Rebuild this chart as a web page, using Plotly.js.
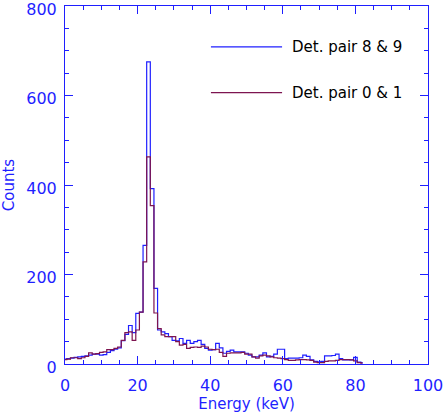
<!DOCTYPE html>
<html>
<head>
<meta charset="utf-8">
<script src="https://cdn.plot.ly/plotly-3.0.1.min.js"></script>
<style>html,body{margin:0;padding:0;background:#fff;}#chart{width:443px;height:420px;}</style>
</head>
<body>
<div id="chart"></div>
<script>
// Bin centres (keV), 1 keV wide bins
const energyKeV = [0,1,2,3,4,5,6,7,8,9,10,11,12,13,14,15,16,17,18,19,20,21,22,23,24,25,26,27,28,29,30,31,32,33,34,35,36,37,38,39,40,41,42,43,44,45,46,47,48,49,50,51,52,53,54,55,56,57,58,59,60,61,62,63,64,65,66,67,68,69,70,71,72,73,74,75,76,77,78,79,80,81,82];

// Det. pair 8 & 9
const countsPair89 = [11,12,13,15,16,17,18,20,22,22,20,21,26,30,33,36,52,66,86,70,113,116,265,675,392,169,
  76,72,68,61,53,52,57,46,53,46,50,53,44,35,
  31,32,46,36,24,28,31,27,27,27,24,20,16,16,20,25,16,17,22,33,33,
  12,13,13,13,14,20,17,9,6,5,6,18,18,19,22,12,9,9,9,15,4,3];

// Det. pair 0 & 1
const countsPair01 = [10,11,14,14,12,14,17,25,22,23,26,27,32,32,35,38,53,70,72,53,76,116,228,463,354,114,
  79,65,61,61,61,50,42,44,35,37,38,37,40,38,
  33,32,33,26,17,24,25,25,25,26,22,22,16,13,18,20,18,16,14,13,12,
  10,8,8,9,10,10,9,8,4,3,3,6,7,7,8,10,10,10,9,7,3,2];

const seriesNames = ["Det. pair 8 & 9", "Det. pair 0 & 1"];
const xTickVals = [0,20,40,60,80,100];
const yTickVals = [0,200,400,600,800];

const blue = '#1f1fff';
const purple = '#7d1450';
const fontFam = 'DejaVu Sans, sans-serif';

const traces = [
  {x: energyKeV, y: countsPair89, type: 'scatter', mode: 'lines', line: {shape: 'hvh', color: blue, width: 1.2}, name: seriesNames[0], showlegend: false},
  {x: energyKeV, y: countsPair01, type: 'scatter', mode: 'lines', line: {shape: 'hvh', color: purple, width: 1.2}, name: seriesNames[1], showlegend: false}
];

const axisCommon = {
  showline: true, linecolor: blue, linewidth: 1, mirror: 'ticks',
  ticks: 'inside', ticklen: 8, tickcolor: blue, tickwidth: 1,
  showgrid: false, zeroline: false,
  ticklabeloverflow: 'allow',
  tickfont: {family: fontFam, size: 16, color: blue}
};

const layout = {
  width: 443, height: 420,
  margin: {l: 65, r: 15, t: 6, b: 56},
  paper_bgcolor: '#fff', plot_bgcolor: '#fff',
  showlegend: false,
  xaxis: Object.assign({}, axisCommon, {
    range: [0, 100], tickvals: xTickVals, ticktext: xTickVals.map(String),
    ticklabelstandoff: 7,
    minor: {dtick: 5, ticks: 'inside', ticklen: 4, tickcolor: blue, showgrid: false},
    title: {text: 'Energy (keV)', font: {family: fontFam, size: 15, color: blue}, standoff: 2}
  }),
  yaxis: Object.assign({}, axisCommon, {
    range: [0, 800], tickvals: yTickVals, ticktext: yTickVals.map(String),
    ticklabelstandoff: 4, ticklabelshift: 3,
    minor: {dtick: 50, ticks: 'inside', ticklen: 4, tickcolor: blue, showgrid: false},
    title: {text: 'Counts', font: {family: fontFam, size: 15, color: blue}, standoff: 8}
  }),
  shapes: [
    {type: 'line', xref: 'paper', yref: 'paper', x0: 0.402, x1: 0.598, y0: 0.886, y1: 0.886, line: {color: blue, width: 1.2}},
    {type: 'line', xref: 'paper', yref: 'paper', x0: 0.402, x1: 0.598, y0: 0.758, y1: 0.758, line: {color: purple, width: 1.2}}
  ],
  annotations: [
    {xref: 'paper', yref: 'paper', x: 0.62, y: 0.886, xanchor: 'left', yanchor: 'middle', showarrow: false, text: seriesNames[0], font: {family: fontFam, size: 15, color: '#000'}},
    {xref: 'paper', yref: 'paper', x: 0.62, y: 0.758, xanchor: 'left', yanchor: 'middle', showarrow: false, text: seriesNames[1], font: {family: fontFam, size: 15, color: '#000'}}
  ]
};

Plotly.newPlot('chart', traces, layout, {displayModeBar: false, staticPlot: true});
</script>
</body>
</html>
